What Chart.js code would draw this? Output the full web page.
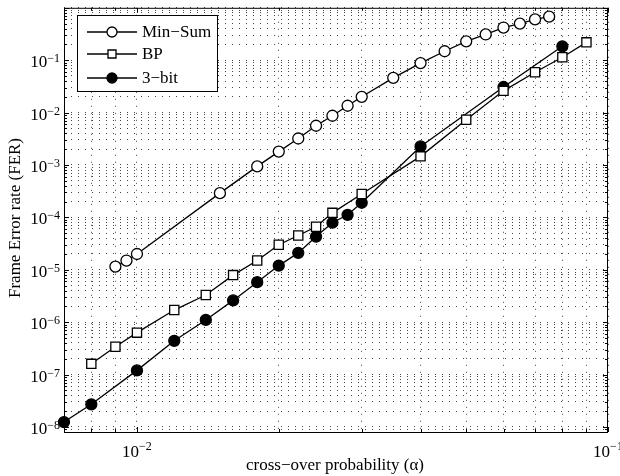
<!DOCTYPE html>
<html>
<head>
<meta charset="utf-8">
<script src="https://cdn.jsdelivr.net/npm/chart.js@4.4.1/dist/chart.umd.min.js"></script>
<style>
  html, body { margin: 0; padding: 0; background: #fff; }
  #wrap { width: 620px; height: 476px; }
</style>
</head>
<body>
<div id="wrap"><canvas id="ferChart" width="620" height="476"></canvas></div>
<script>
// values
const seriesNames = ['Min\u2212Sum', 'BP', '3\u2212bit'];

const minSumX = [0.009, 0.0095, 0.01, 0.015, 0.018, 0.02, 0.022, 0.024, 0.026, 0.028, 0.03, 0.035, 0.04, 0.045, 0.05, 0.055, 0.06, 0.065, 0.07, 0.075];
const minSumY = [1.15e-5, 1.5e-5, 2.0e-5, 2.9e-4, 9.4e-4, 1.8e-3, 3.2e-3, 5.6e-3, 8.7e-3, 1.35e-2, 2.0e-2, 4.6e-2, 8.8e-2, 0.148, 0.229, 0.31, 0.42, 0.50, 0.60, 0.68];

const bpX = [0.008, 0.009, 0.01, 0.012, 0.014, 0.016, 0.018, 0.02, 0.022, 0.024, 0.026, 0.03, 0.04, 0.05, 0.06, 0.07, 0.08, 0.09];
const bpY = [1.6e-7, 3.4e-7, 6.3e-7, 1.7e-6, 3.3e-6, 7.9e-6, 1.5e-5, 3.0e-5, 4.5e-5, 6.6e-5, 1.22e-4, 2.8e-4, 1.46e-3, 7.3e-3, 2.6e-2, 5.9e-2, 0.114, 0.219];

const threeBitX = [0.007, 0.008, 0.01, 0.012, 0.014, 0.016, 0.018, 0.02, 0.022, 0.024, 0.026, 0.028, 0.03, 0.04, 0.06, 0.08];
const threeBitY = [1.24e-8, 2.7e-8, 1.2e-7, 4.4e-7, 1.1e-6, 2.6e-6, 5.8e-6, 1.2e-5, 2.1e-5, 4.3e-5, 7.9e-5, 1.12e-4, 1.9e-4, 2.26e-3, 3.08e-2, 0.184];

const xLimits = [0.007, 0.1];
const yLimits = [8e-9, 1];

const xTickValues = [0.01, 0.1];
const xTickExp = ['\u22122', '\u22121'];
const yTickValues = [1e-8, 1e-7, 1e-6, 1e-5, 1e-4, 1e-3, 1e-2, 1e-1];
const yTickExp = ['\u22128', '\u22127', '\u22126', '\u22125', '\u22124', '\u22123', '\u22122', '\u22121'];

const FONT = '"Liberation Serif", "Times New Roman", serif';

function toPoints(xs, ys) {
    return xs.map((x, i) => ({ x: x, y: ys[i] }));
}

// 1..9 x 10^k inside [lo, hi], for grid lines and small ticks
function logGrid(lo, hi) {
    const out = [];
    for (let e = Math.floor(Math.log10(lo)); e <= Math.ceil(Math.log10(hi)); e++) {
        for (let m = 1; m <= 9; m++) {
            const v = m * Math.pow(10, e);
            if (v >= lo * 0.9999 && v <= hi * 1.0001) out.push({ value: v, major: m === 1 });
        }
    }
    return out;
}

function drawMarker(ctx, style, x, y) {
    ctx.beginPath();
    if (style === 'rect') {
        ctx.rect(x - 4, y - 4, 8, 8);
        ctx.fillStyle = '#fff';
    } else {
        ctx.arc(x, y, 5, 0, Math.PI * 2);
        ctx.fillStyle = style === 'filled' ? '#000' : '#fff';
    }
    ctx.fill();
    ctx.stroke();
}

const framePlugin = {
    id: 'frame',
    afterDraw(chart) {
        const ctx = chart.ctx;
        const a = chart.chartArea;
        const xs = chart.scales.x;
        const ys = chart.scales.y;
        ctx.save();
        ctx.strokeStyle = '#000';
        ctx.lineWidth = 1;
        ctx.strokeRect(a.left + 0.5, a.top + 0.5, a.right - a.left - 1, a.bottom - a.top);

        // inward ticks on all four sides
        ctx.beginPath();
        logGrid(xLimits[0], xLimits[1]).forEach(t => {
            const px = Math.round(xs.getPixelForValue(t.value)) + 0.5;
            const len = t.major ? 5 : 3;
            ctx.moveTo(px, a.bottom); ctx.lineTo(px, a.bottom - len);
            ctx.moveTo(px, a.top); ctx.lineTo(px, a.top + len);
        });
        logGrid(yLimits[0], yLimits[1]).forEach(t => {
            const py = Math.round(ys.getPixelForValue(t.value)) + 0.5;
            const len = t.major ? 5 : 3;
            ctx.moveTo(a.left, py); ctx.lineTo(a.left + len, py);
            ctx.moveTo(a.right, py); ctx.lineTo(a.right - len, py);
        });
        ctx.stroke();

        // tick labels, 10 with a raised exponent
        ctx.fillStyle = '#000';
        ctx.textAlign = 'left';
        ctx.textBaseline = 'alphabetic';
        yTickValues.forEach((v, i) => {
            const py = ys.getPixelForValue(v);
            ctx.font = '12px ' + FONT;
            const we = ctx.measureText(yTickExp[i]).width;
            ctx.fillText(yTickExp[i], 60 - we, py + 2);
            ctx.font = '17px ' + FONT;
            const wb = ctx.measureText('10').width;
            ctx.fillText('10', 60 - we - wb, py + 7);
        });
        xTickValues.forEach((v, i) => {
            const px = xs.getPixelForValue(v);
            ctx.font = '17px ' + FONT;
            const wb = ctx.measureText('10').width;
            ctx.font = '12px ' + FONT;
            const we = ctx.measureText(xTickExp[i]).width;
            const start = px - (wb + we) / 2;
            ctx.fillText(xTickExp[i], start + wb, 450);
            ctx.font = '17px ' + FONT;
            ctx.fillText('10', start, 457);
        });

        // axis titles
        ctx.font = '17px ' + FONT;
        ctx.textAlign = 'center';
        ctx.fillText('cross\u2212over probability (\u03b1)', 335, 470);
        ctx.save();
        ctx.translate(20, 218);
        ctx.rotate(-Math.PI / 2);
        ctx.fillText('Frame Error rate (FER)', 0, 0);
        ctx.restore();

        // legend
        ctx.fillStyle = '#fff';
        ctx.fillRect(77, 15, 140, 76);
        ctx.lineWidth = 1;
        ctx.strokeRect(77.5, 15.5, 140, 76);
        const rows = [32, 54, 78];
        const styles = ['circle', 'rect', 'filled'];
        ctx.lineWidth = 1.3;
        seriesNames.forEach((name, i) => {
            const y = rows[i];
            ctx.beginPath();
            ctx.moveTo(87, y); ctx.lineTo(137, y);
            ctx.stroke();
            drawMarker(ctx, styles[i], 112, y);
            ctx.fillStyle = '#000';
            ctx.font = '17px ' + FONT;
            ctx.textAlign = 'left';
            ctx.textBaseline = 'middle';
            ctx.fillText(name, 142, y + 1);
        });
        ctx.restore();
    }
};

const lineStyle = {
    borderColor: '#000',
    borderWidth: 1.3,
    pointBorderColor: '#000',
    pointBorderWidth: 1.3,
    tension: 0,
    clip: false
};

new Chart(document.getElementById('ferChart'), {
    type: 'scatter',
    data: {
        datasets: [
            Object.assign({
                label: seriesNames[0],
                data: toPoints(minSumX, minSumY),
                showLine: true,
                pointStyle: 'circle',
                pointRadius: 5.5,
                pointBackgroundColor: '#fff'
            }, lineStyle),
            Object.assign({
                label: seriesNames[1],
                data: toPoints(bpX, bpY),
                showLine: true,
                pointStyle: 'rect',
                pointRadius: 6.5,
                pointBackgroundColor: '#fff'
            }, lineStyle),
            Object.assign({
                label: seriesNames[2],
                data: toPoints(threeBitX, threeBitY),
                showLine: true,
                pointStyle: 'circle',
                pointRadius: 5.5,
                pointBackgroundColor: '#000'
            }, lineStyle)
        ]
    },
    options: {
        responsive: false,
        animation: false,
        layout: { padding: { top: 4, right: 12, left: 0, bottom: 0 } },
        plugins: {
            legend: { display: false },
            tooltip: { enabled: false }
        },
        scales: {
            x: {
                type: 'logarithmic',
                min: xLimits[0],
                max: xLimits[1],
                afterBuildTicks: s => { s.ticks = logGrid(xLimits[0], xLimits[1]).map(t => ({ value: t.value })); },
                afterFit: s => { s.height = 44; },
                ticks: { display: false },
                grid: { color: '#444', lineWidth: 1, drawTicks: false },
                border: { display: false, dash: [1, 6] }
            },
            y: {
                type: 'logarithmic',
                min: yLimits[0],
                max: yLimits[1],
                afterBuildTicks: s => { s.ticks = logGrid(yLimits[0], yLimits[1]).map(t => ({ value: t.value })); },
                afterFit: s => { s.width = 64; },
                ticks: { display: false },
                grid: { color: '#444', lineWidth: 1, drawTicks: false },
                border: { display: false, dash: [1, 6] }
            }
        }
    },
    plugins: [framePlugin]
});
</script>
</body>
</html>
